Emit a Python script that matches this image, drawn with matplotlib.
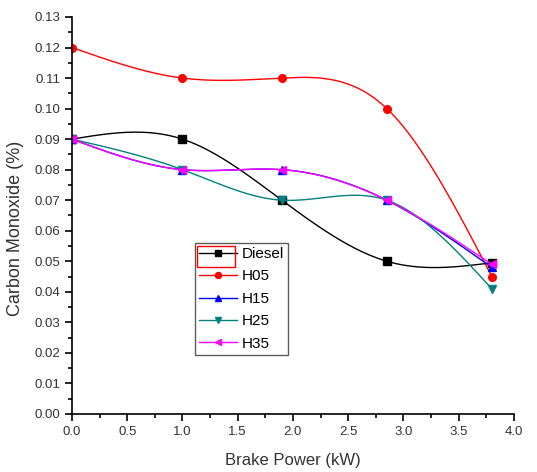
import numpy as np
import matplotlib
matplotlib.use("Agg")
import matplotlib.pyplot as plt
from matplotlib.ticker import MultipleLocator, FormatStrFormatter
from matplotlib.patches import Rectangle

plt.rcParams['font.family'] = ['Liberation Sans', 'DejaVu Sans']

brake_power = [0.0, 1.0, 1.9, 2.85, 3.8]
diesel = [0.09, 0.09, 0.07, 0.05, 0.0495]
h05 = [0.12, 0.11, 0.11, 0.10, 0.045]
h15 = [0.09, 0.08, 0.08, 0.07, 0.048]
h25 = [0.09, 0.08, 0.07, 0.07, 0.041]
h35 = [0.09, 0.08, 0.08, 0.07, 0.049]

series = [
    ("Diesel", diesel, "black", "s"),
    ("H05", h05, "red", "o"),
    ("H15", h15, "blue", "^"),
    ("H25", h25, "#008080", "v"),
    ("H35", h35, "magenta", "<"),
]


def natural_spline(x, y, n=300):
    x = np.asarray(x, float)
    y = np.asarray(y, float)
    m = len(x)
    h = np.diff(x)
    A = np.zeros((m, m))
    b = np.zeros(m)
    A[0, 0] = 1
    A[-1, -1] = 1
    for i in range(1, m - 1):
        A[i, i - 1] = h[i - 1]
        A[i, i] = 2 * (h[i - 1] + h[i])
        A[i, i + 1] = h[i]
        b[i] = 6 * ((y[i + 1] - y[i]) / h[i] - (y[i] - y[i - 1]) / h[i - 1])
    M = np.linalg.solve(A, b)
    xs = np.linspace(x[0], x[-1], n)
    ys = np.empty_like(xs)
    for k, xv in enumerate(xs):
        i = min(np.searchsorted(x, xv, side='right') - 1, m - 2)
        t0 = x[i + 1] - xv
        t1 = xv - x[i]
        ys[k] = (M[i] * t0 ** 3 + M[i + 1] * t1 ** 3) / (6 * h[i]) \
            + (y[i] / h[i] - M[i] * h[i] / 6) * t0 \
            + (y[i + 1] / h[i] - M[i + 1] * h[i] / 6) * t1
    return xs, ys


fig = plt.figure(figsize=(5.37, 4.72), dpi=100)
ax = fig.add_axes([0.134, 0.123, 0.823, 0.841])

handles = []
for name, vals, col, mk in series:
    xs, ys = natural_spline(brake_power, vals)
    ax.plot(xs, ys, color=col, lw=1.0)
    ax.plot(brake_power, vals, linestyle='none', marker=mk, color=col, ms=5.5)
    h, = ax.plot([], [], color=col, lw=1.0, marker=mk, ms=5.5, label=name)
    handles.append(h)

ax.set_xlim(0, 4.0)
ax.set_ylim(0, 0.13)
ax.xaxis.set_major_locator(MultipleLocator(0.5))
ax.xaxis.set_minor_locator(MultipleLocator(0.25))
ax.yaxis.set_major_locator(MultipleLocator(0.01))
ax.yaxis.set_minor_locator(MultipleLocator(0.005))
ax.xaxis.set_major_formatter(FormatStrFormatter('%.1f'))
ax.yaxis.set_major_formatter(FormatStrFormatter('%.2f'))
for s in ['top', 'right']:
    ax.spines[s].set_visible(False)
for s in ['left', 'bottom']:
    ax.spines[s].set_linewidth(1.2)
ax.tick_params(which='major', direction='out', length=5, width=1.2, labelsize=9.5, colors='black', labelcolor='#333333')
ax.tick_params(which='minor', direction='out', length=3, width=1.2)
ax.set_xlabel('Brake Power (kW)', fontsize=12, color='#333333', labelpad=11)
ax.set_ylabel('Carbon Monoxide (%)', fontsize=13, color='#333333')
ax.yaxis.set_label_coords(-0.108, 0.468)

leg = ax.legend(handles=handles, loc='upper left', bbox_to_anchor=(0.278, 0.43),
                frameon=True, fancybox=False, edgecolor='#333333', fontsize=11,
                handlelength=2.5, handletextpad=0.35, borderpad=0.25, labelspacing=0.55,
                borderaxespad=0, markerscale=0.8)
leg.get_frame().set_linewidth(1.0)

fig.patches.append(Rectangle((0.367, 0.434), 0.0708, 0.0445, transform=fig.transFigure,
                             fill=False, edgecolor='red', lw=1.0, zorder=10))

fig.savefig('out.png', dpi=100)
